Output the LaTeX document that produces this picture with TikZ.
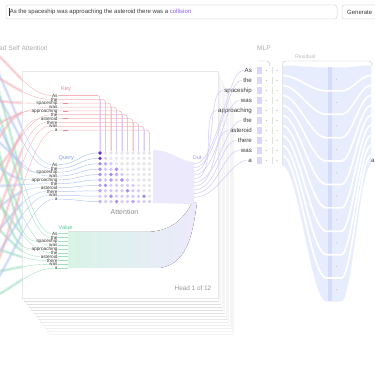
\documentclass[tikz,border=0pt]{standalone}
\usepackage{fontspec}
\setmainfont{Liberation Sans}
\usetikzlibrary{calc}
\definecolor{keyc}{HTML}{F6B3B8}
\definecolor{keyd}{HTML}{F08C92}
\definecolor{keylab}{HTML}{F08C90}
\definecolor{qc}{HTML}{B4C8F5}
\definecolor{qlab}{HTML}{7FA4EE}
\definecolor{vc}{HTML}{9EDFC0}
\definecolor{vlab}{HTML}{5CCB9C}
\definecolor{vlight}{HTML}{D8F4E7}
\definecolor{lav}{HTML}{D4CCF6}
\definecolor{lavfill}{HTML}{EDE9FC}
\definecolor{pdark}{HTML}{6A2BD9}
\definecolor{pmed}{HTML}{A98DF1}
\definecolor{plight}{HTML}{D6CAF8}
\definecolor{gdot}{HTML}{E6E6EB}
\definecolor{mlpfill}{HTML}{E8EDFD}
\definecolor{mlpstrip}{HTML}{D3DCFB}
\definecolor{txt}{HTML}{3A3A3A}
\definecolor{hdr}{HTML}{ADADAD}
\definecolor{collc}{HTML}{8B5CF6}
\definecolor{outc}{HTML}{A78BFA}
\definecolor{sqc}{HTML}{DDD5FB}
\definecolor{edge}{HTML}{F5F5F5}
\begin{document}
\begin{tikzpicture}[x=1pt,y=-1pt,
  word/.style={font=\fontsize{4.7}{4.7}\selectfont, text=txt, inner sep=0.3pt, anchor=east},
  mword/.style={font=\fontsize{6.1}{6.1}\selectfont, text=txt, inner sep=0.5pt, anchor=east},
  grplab/.style={font=\fontsize{5.6}{5.6}\selectfont, inner sep=0pt, anchor=west},
  hdrtext/.style={font=\fontsize{6.6}{6.6}\selectfont, text=hdr, inner sep=0pt, anchor=west},
  dot/.style={circle, inner sep=0pt, minimum size=3.7pt},
  kthick/.style={draw=keyc, line width=3pt, opacity=0.4},
  qthick/.style={draw=qc, line width=3pt, opacity=0.4},
  vthick/.style={draw=vc, line width=3pt, opacity=0.4},
  kthin/.style={draw=keyc, line width=0.35pt},
  qthin/.style={draw=qc, line width=0.35pt},
  vthin/.style={draw=vc, line width=0.35pt},
  lavline/.style={draw=lav, line width=0.6pt},
  stackcard/.style={draw=edge, fill=white, line width=0.4pt},
  hdrline/.style={draw=hdr!70, line width=0.4pt},
  inbox/.style={draw=black!15, line width=0.5pt, rounded corners=2.5pt, fill=white},
  declare function={
    tl(\x)=max(0,min(1,(330-\x-3.3)/44.7));
    tr(\x)=max(0,min(1,(\x-330-11.2)/29.8));
    bl(\x)=(\x<330)*(1+cos(180*tl(\x)))/2+(\x>=330)*(1+cos(180*tr(\x)))/2;
  }]
\useasboundingbox (0,0) rectangle (375,366);
\clip (0,0) rectangle (375,366);
\fill[white] (0,0) rectangle (375,366);

% ---------- top bar
\draw[inbox] (6,5) rectangle (337,19);
\node[inner sep=0pt, anchor=west, font=\fontsize{6}{6}\selectfont, text=txt] (prompt) at (9.6,12.2)
  {As the spaceship was approaching the asteroid there was a \textcolor{collc}{collision}};
\draw[black!80, line width=0.35pt] (9.2,8.2) -- (9.2,16.2);
\draw[inbox] (342,5) rectangle (390,19);
\node[inner sep=0pt, anchor=west, font=\fontsize{6}{6}\selectfont, text=txt] (gen) at (347,12.2) {Generate};

% ---------- headers
\node[hdrtext] (mhsa) at (-1,48.5) {ad Self Attention};
\node[hdrtext] (mlp) at (257,48.5) {MLP};
\node[inner sep=0pt, anchor=west, font=\fontsize{5.2}{5.2}\selectfont, text=hdr!80] (resid) at (295,56.5) {Residual};
\draw[hdrline] (258,61) -- (265,61) .. controls (269,61) .. (270,66);
\draw[hdrline] (282.5,66) .. controls (283,61) .. (288,61) -- (367,61) .. controls (371,61) .. (372,66);

% ---------- word nodes (attention head)
\foreach \w [count=\i from 0] in {As,the,spaceship,was,approaching,the,asteroid,there,was,a}{
  \node[word] (k\i) at (58,{95.5+3.85*\i}) {\w};
  \node[word] (q\i) at (58,{164.5+3.85*\i}) {\w};
  \node[word] (v\i) at (58,{233.5+3.85*\i}) {\w};
}
\foreach \j in {0,...,9}{
  \coordinate (s\j) at (-30,{42+29*\j});
}

% ---------- thick crossing bands at the left
\foreach \j in {0,...,9}{
  \draw[kthick] (s\j) .. controls +(32,0) and +(-30,0) .. (k\j.west);
  \draw[qthick] (s\j) .. controls +(32,0) and +(-30,0) .. (q\j.west);
  \draw[vthick] (s\j) .. controls +(32,0) and +(-30,0) .. (v\j.west);
}

% ---------- stacked head cards
\foreach \k in {12,...,1}{
  \pgfmathsetmacro{\bk}{14-0.8*\k}
  \draw[stackcard] ({22+2.3*\k},{71+3*\k}) rectangle ({218+1.3*\k},{298+3*\k});
  \draw[black!\bk, line width=0.4pt] ({22+2.3*\k},{298+3*\k}) -- ({218+1.3*\k},{298+3*\k});
}
\draw[stackcard, draw=black!9] (22,71) rectangle (218,298);

% ---------- thin lines into the words
\foreach \j in {0,...,9}{
  \draw[kthin] (s\j) .. controls +(32,0) and +(-30,0) .. (k\j.west);
  \draw[qthin] (s\j) .. controls +(32,0) and +(-30,0) .. (q\j.west);
  \draw[vthin] (s\j) .. controls +(32,0) and +(-30,0) .. (v\j.west);
}
% words above the lines
\foreach \w [count=\i from 0] in {As,the,spaceship,was,approaching,the,asteroid,there,was,a}{
  \node[word, fill=white, fill opacity=0.6, text opacity=1] (kk\i) at (58,{95.5+3.85*\i}) {\w};
  \node[word, fill=white, fill opacity=0.6, text opacity=1] (qq\i) at (58,{164.5+3.85*\i}) {\w};
  \node[word, fill=white, fill opacity=0.6, text opacity=1] (vv\i) at (58,{233.5+3.85*\i}) {\w};
}

% ---------- group labels
\node[grplab, text=keylab] (keyl) at (61,89) {Key};
\node[grplab, text=qlab] (ql) at (58.5,158) {Query};
\node[grplab, text=vlab] (vl) at (58.5,227) {Value};

% ---------- value band
\fill[left color=vlight, right color=lavfill] (68,232) -- (145,232) .. controls (170,232) and (183,220) .. (192,203)
  -- (197,203) .. controls (193,228) and (190,263) .. (160,268) -- (68,268) -- cycle;
\foreach \i in {0,...,9}{
  \draw[vthin] (v\i.east) -- ++(10,0);
}

% ---------- attention matrix
\fill[lavfill] (153,150) .. controls (172,150) and (178,161) .. (194,162) -- (194,204) -- (153,203) -- cycle;
\foreach \r in {0,...,9}{
  \foreach \c in {0,...,9}{
    \ifnum\c>\r \def\dc{gdot}\else \def\dc{plight}\fi
    \node[dot, fill=\dc] (d\r-\c) at ({100+5.5*\c},{153+5.4*\r}) {};
  }
}
\foreach \r/\c/\col in {0/0/pdark,1/0/pdark,2/0/pmed,2/1/pmed!70,3/0/pmed,3/3/pmed,4/0/pmed,4/2/pmed,4/3/pmed!70,
  5/0/pmed!70,5/2/pmed!80,5/4/pmed,6/0/pmed!80,6/1/pmed,7/0/pmed!80,7/5/pmed,8/2/pmed,8/8/pmed,9/0/pmed!70,9/3/pmed,9/6/pmed!80}{
  \fill[\col] (d\r-\c) circle (1.85);
}
% key lines
\foreach \i in {0,...,9}{
  \draw[draw=keyc, line width=0.55pt, rounded corners=3pt] (k\i.east) -| (d0-\i.north);
  \draw[lavline, shorten <=4pt] (d0-\i.north |- k\i.east) -- (d0-\i.north);
}
\foreach \i in {2,4,6,9}{
  \draw[draw=keyd, line width=0.6pt] ([xshift=5pt]k\i.east) -- ++(5,0);
}
% query lines
\foreach \i in {0,...,9}{
  \draw[draw=qc, line width=0.5pt] (q\i.east) .. controls +(20,0) and +(-18,0) .. (d\i-0.west);
}
\node[inner sep=0pt, font=\fontsize{7}{7}\selectfont, text=black!45] (attl) at (124.5,212) {Attention};
\node[inner sep=0pt, anchor=east, font=\fontsize{6.4}{6.4}\selectfont, text=black!40] (headl) at (211.5,288) {Head 1 of 12};

% ---------- MLP words
\foreach \w [count=\i from 0] in {As,the,spaceship,was,approaching,the,asteroid,there,was,a}{
  \node[mword] (m\i) at (252.5,{70.5+10*\i}) {\w};
}

% ---------- Out
\node[inner sep=0pt, font=\fontsize{5.4}{5.4}\selectfont, text=outc] (outl) at (197,157.5) {Out};
\foreach \k in {0,...,9}{
  \coordinate (o\k) at (194,{164+3.7*\k});
  \draw[draw=lav, line width=0.55pt] (o\k) .. controls +(24,0) and +(-16,0) .. ([xshift=-1pt]m\k.west);
}

% ---------- MLP rows
\foreach \k in {0,...,9}{
  \node[fill=sqc, inner sep=0pt, minimum width=5pt, minimum height=6.5pt] (sq\k) at (259,{70.5+10*\k}) {};
  \fill[black!25] (266.5,{70.5+10*\k}) circle (0.55);
  \fill[black!25] (277,{70.5+10*\k}) circle (0.55);
  \draw[black!12, line width=0.3pt] (271.8,{67+10*\k}) -- (271.8,{74+10*\k});
}

% ---------- residual trough
\fill[mlpfill] plot[domain=282:371, samples=120] (\x,{65.5+2*bl(\x)})
  -- plot[domain=371:282, samples=120] (\x,{165.5+136*bl(\x)}) -- cycle;
\fill[mlpstrip] (327.5,67.5) rectangle (331.5,301);
\foreach \i in {1,...,9}{
  \draw[white, line width=1.7pt] plot[domain=280:373, samples=120] (\x,{65.5+10*\i+(2+13.4*\i)*bl(\x)});
}
\foreach \i in {0,...,9}{
  \fill[black!22] (336.5,{79.2+23.4*\i}) circle (0.6);
}
\draw[black!10, line width=0.3pt] (282,65.5) -- (282,165.5);
\node[inner sep=0pt, anchor=west, font=\fontsize{6.1}{6.1}\selectfont, text=txt] (ra) at (371,160.5) {a};
\end{tikzpicture}
\end{document}
